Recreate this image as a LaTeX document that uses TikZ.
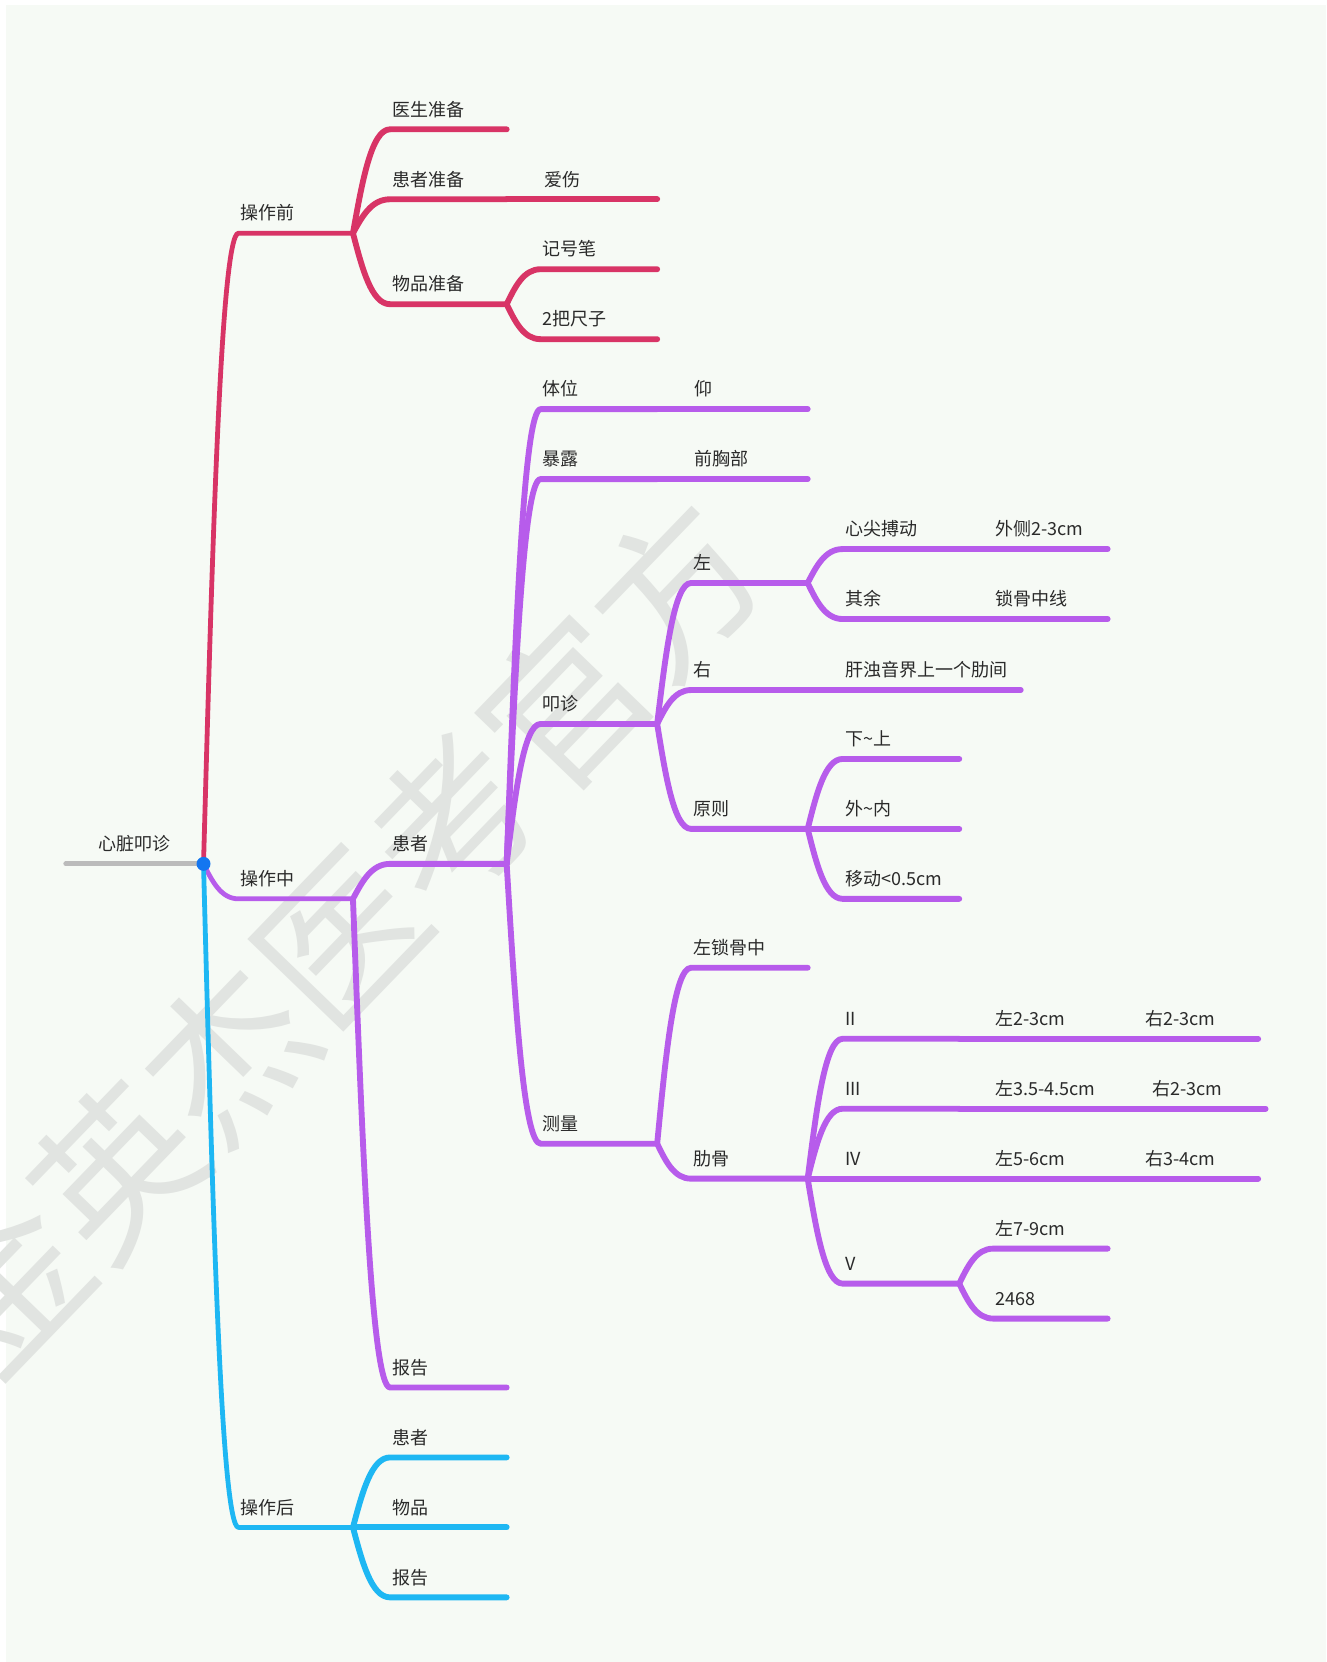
\documentclass[tikz,border=0pt]{standalone}
\usepackage{fontspec}
\newfontfamily\cjk{Noto Sans CJK SC}
\usetikzlibrary{calc}
\definecolor{redbr}{HTML}{D83466}
\definecolor{purpbr}{HTML}{B75CEB}
\definecolor{cyanbr}{HTML}{1EB7F3}
\definecolor{rootgray}{HTML}{BBBBBB}
\definecolor{dotblue}{HTML}{1476F0}
\definecolor{bgpaper}{HTML}{F6FAF5}
\definecolor{txtgray}{HTML}{2A2A2A}
\definecolor{wmgray}{HTML}{E1E4E1}

\begin{document}
\begin{tikzpicture}[
  x=0.795pt, y=-0.795pt,
  font=\cjk\fontsize{13.5}{16}\selectfont,
  % Branch lines
  branch/.style={line width=4.4pt, line cap=round, line join=round},
  trunk/.style={branch, line width=3.6pt},
  % Topic labels
  lbl/.style={anchor=base west, inner sep=0pt, text=txtgray}
]

% === PAGE ===
\useasboundingbox (0,0) rectangle (1251,1568);
\fill[white] (0,0) rectangle (1251,1568);
\fill[bgpaper] (5.5,4.7) rectangle (1251,1568);

% === WATERMARK ===
\begin{scope}
  \clip (0,0) rectangle (1251,1568);
  \node[rotate=46, inner sep=0pt, text=wmgray, font=\cjk\fontsize{121}{121}\selectfont] (wm) at (321,884) {金英杰医考官方};
\end{scope}

% === TOPIC POSITIONS (corner / end of line) ===
\foreach \n/\x/\y/\e in {
  xz/62/815/192,
  qian/225/220/333, zhong/225/848/333, hou/225/1441/333,
  ys/368/122/478, hzb/368/188/478, aishang/511/188/620,
  wpb/368/287/478, jhb/510/254/620, cz/510/320/620,
  hz/368/815/478, tw/510/386/620, yang/653/386/762,
  bl/510/452/620, qxb/653/452/762, kz/510/683/620,
  zuo/652/550/762, xj/795/518/905, wc/937/518/1045,
  qy/795/584/905, sgzx/937/584/1045, you/652/651/762, gz/795/651/963,
  yz/652/782/762, xs/795/716/905, wn/795/782/905, yd/795/848/905,
  cl/510/1079/620, zsg/652/913/762, lg/652/1112/762,
  rb2/795/980/905, rb2l/937/980/1045, rb2r/1078/980/1187,
  rb3/795/1046/905, rb3l/937/1046/1052, rb3r/1085/1046/1194,
  rb4/795/1112/905, rb4l/937/1112/1045, rb4r/1078/1112/1187,
  rb5/795/1211/905, rb5a/937/1178/1045, rb5b/937/1244/1045,
  bg/368/1309/478,
  hzh/368/1375/478, wp/368/1441/478, bgh/368/1507/478}{
  \coordinate (\n) at (\x,\y);
  \coordinate (\n-e) at (\e,\y);
}

% === ROOT ===
\draw[trunk, draw=rootgray] (xz) -- (xz-e);
\node[lbl] (xz-t) at (93,802.5) {心脏叩诊};

% === MAIN BRANCHES ===
\foreach \dst/\col in {qian/redbr, zhong/purpbr, hou/cyanbr}
  \draw[trunk, draw=\col] let \p1=(xz-e), \p2=(\dst) in
    (\p1) .. controls ({\x1+0.25*(\x2-\x1)},{\y1+0.5*(\y2-\y1)}) and ({\x1+0.5*(\x2-\x1)},\y2) .. (\p2) -- (\dst-e);

% === SUB BRANCHES ===
\foreach \src/\dst/\col in {
  qian/ys/redbr, qian/hzb/redbr, hzb/aishang/redbr, qian/wpb/redbr, wpb/jhb/redbr, wpb/cz/redbr,
  zhong/hz/purpbr, hz/tw/purpbr, tw/yang/purpbr, hz/bl/purpbr, bl/qxb/purpbr, hz/kz/purpbr,
  kz/zuo/purpbr, zuo/xj/purpbr, xj/wc/purpbr, zuo/qy/purpbr, qy/sgzx/purpbr,
  kz/you/purpbr, you/gz/purpbr, kz/yz/purpbr, yz/xs/purpbr, yz/wn/purpbr, yz/yd/purpbr,
  hz/cl/purpbr, cl/zsg/purpbr, cl/lg/purpbr,
  lg/rb2/purpbr, rb2/rb2l/purpbr, rb2l/rb2r/purpbr, lg/rb3/purpbr, rb3/rb3l/purpbr, rb3l/rb3r/purpbr,
  lg/rb4/purpbr, rb4/rb4l/purpbr, rb4l/rb4r/purpbr, lg/rb5/purpbr, rb5/rb5a/purpbr, rb5/rb5b/purpbr,
  zhong/bg/purpbr,
  hou/hzh/cyanbr, hou/wp/cyanbr, hou/bgh/cyanbr}
  \draw[branch, draw=\col] let \p1=(\src-e), \p2=(\dst) in
    (\p1) .. controls ({\x1+0.25*(\x2-\x1)},{\y1+0.5*(\y2-\y1)}) and ({\x1+0.5*(\x2-\x1)},\y2) .. (\p2) -- (\dst-e);

\node[circle, fill=dotblue, inner sep=0pt, minimum size=10.5pt] (dot) at (xz-e) {};

% === LABELS ===
\foreach \n/\t in {qian/操作前, zhong/操作中, hou/操作后,
  ys/医生准备, hzb/患者准备, aishang/爱伤, wpb/物品准备, jhb/记号笔, cz/2把尺子,
  hz/患者, tw/体位, yang/仰, bl/暴露, qxb/前胸部, kz/叩诊,
  zuo/左, xj/心尖搏动, wc/外侧2-3cm, qy/其余, sgzx/锁骨中线,
  you/右, gz/肝浊音界上一个肋间, yz/原则,
  xs/下\textasciitilde 上, wn/外\textasciitilde 内, yd/移动<0.5cm,
  cl/测量, zsg/左锁骨中, lg/肋骨,
  rb2/II, rb2l/左2-3cm, rb2r/右2-3cm, rb3/III, rb3l/左3.5-4.5cm, rb3r/右2-3cm,
  rb4/IV, rb4l/左5-6cm, rb4r/右3-4cm, rb5/V, rb5a/左7-9cm, rb5b/2468,
  bg/报告, hzh/患者, wp/物品, bgh/报告}
  \node[lbl] (\n-t) at ([shift={(2,-12.5)}]\n) {\t};

\end{tikzpicture}
\end{document}
